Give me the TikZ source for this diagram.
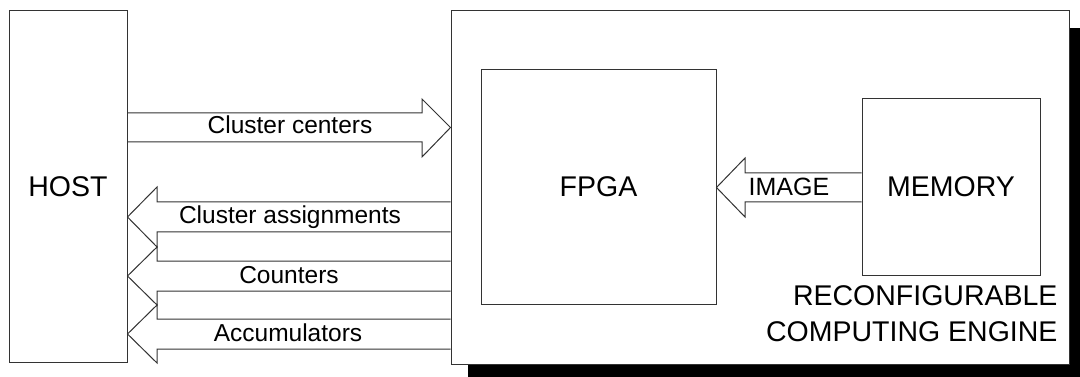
\documentclass[tikz,border=0pt]{standalone}
\usepackage{fontspec}
\setmainfont{Liberation Sans}
\usetikzlibrary{calc}

\begin{document}
\begin{tikzpicture}[
	x=1pt, y=-1pt,
	block/.style={
		rectangle,
		draw=black!80,
		line width=1pt,
		fill=white,
		inner sep=0pt,
		align=center,
		font=\fontsize{28.5}{36}\selectfont,
	},
	BigArrow/.style={% hollow block arrows
		draw=black!80,
		line width=1pt,
		line join=miter,
	},
	lbl/.style={
		anchor=base,
		inner sep=0pt,
		font=\fontsize{24.5}{28}\selectfont,
	},
]
\useasboundingbox (0,0) rectangle (1080,377);

% shadow of the engine
\fill[black] (468,28) rectangle (1080,377);

\node[block, minimum width=118, minimum height=351] (host) at (68,186.5) {HOST};
\node[block, minimum width=618, minimum height=353] (engine) at (760,187.5) {};
\node[block, minimum width=235, minimum height=234] (fpga) at (598.5,187) {FPGA};
\node[block, minimum width=178, minimum height=176] (memory) at (951,187) {MEMORY};

\node[block, draw=none, fill=none, anchor=north east, align=right] (rce) at (1058,285)
	{RECONFIGURABLE\\COMPUTING ENGINE};

% host -> engine
\draw[BigArrow] (host.east |- 0,113) -- (422,113) -- (422,99) -- (engine.west |- 0,127.5)
	-- (422,157) -- (422,142) -- (host.east |- 0,142);
\node[lbl] (centers) at (290,134) {Cluster centers};

% engine -> host
\draw[BigArrow] (engine.west |- 0,202) -- (157,202) -- (157,187) -- (host.east |- 0,217)
	-- (157,247) -- (157,232) -- (engine.west |- 0,232);
\node[lbl] (assign) at (290,224) {Cluster assignments};

\draw[BigArrow] (engine.west |- 0,261) -- (157,261) -- (157,247) -- (host.east |- 0,276)
	-- (157,305) -- (157,291) -- (engine.west |- 0,291);
\node[lbl] (count) at (289,283) {Counters};

\draw[BigArrow] (engine.west |- 0,319) -- (157,319) -- (157,305) -- (host.east |- 0,334)
	-- (157,363) -- (157,349) -- (engine.west |- 0,349);
\node[lbl] (accu) at (288,341) {Accumulators};

% memory -> fpga
\draw[BigArrow] (memory.west |- 0,173) -- (745,173) -- (745,158) -- (fpga.east |- 0,187.5)
	-- (745,217) -- (745,202) -- (memory.west |- 0,202);
\node[lbl, font=\fontsize{25}{28}\selectfont] (image) at (789,196) {IMAGE};

\end{tikzpicture}
\end{document}
